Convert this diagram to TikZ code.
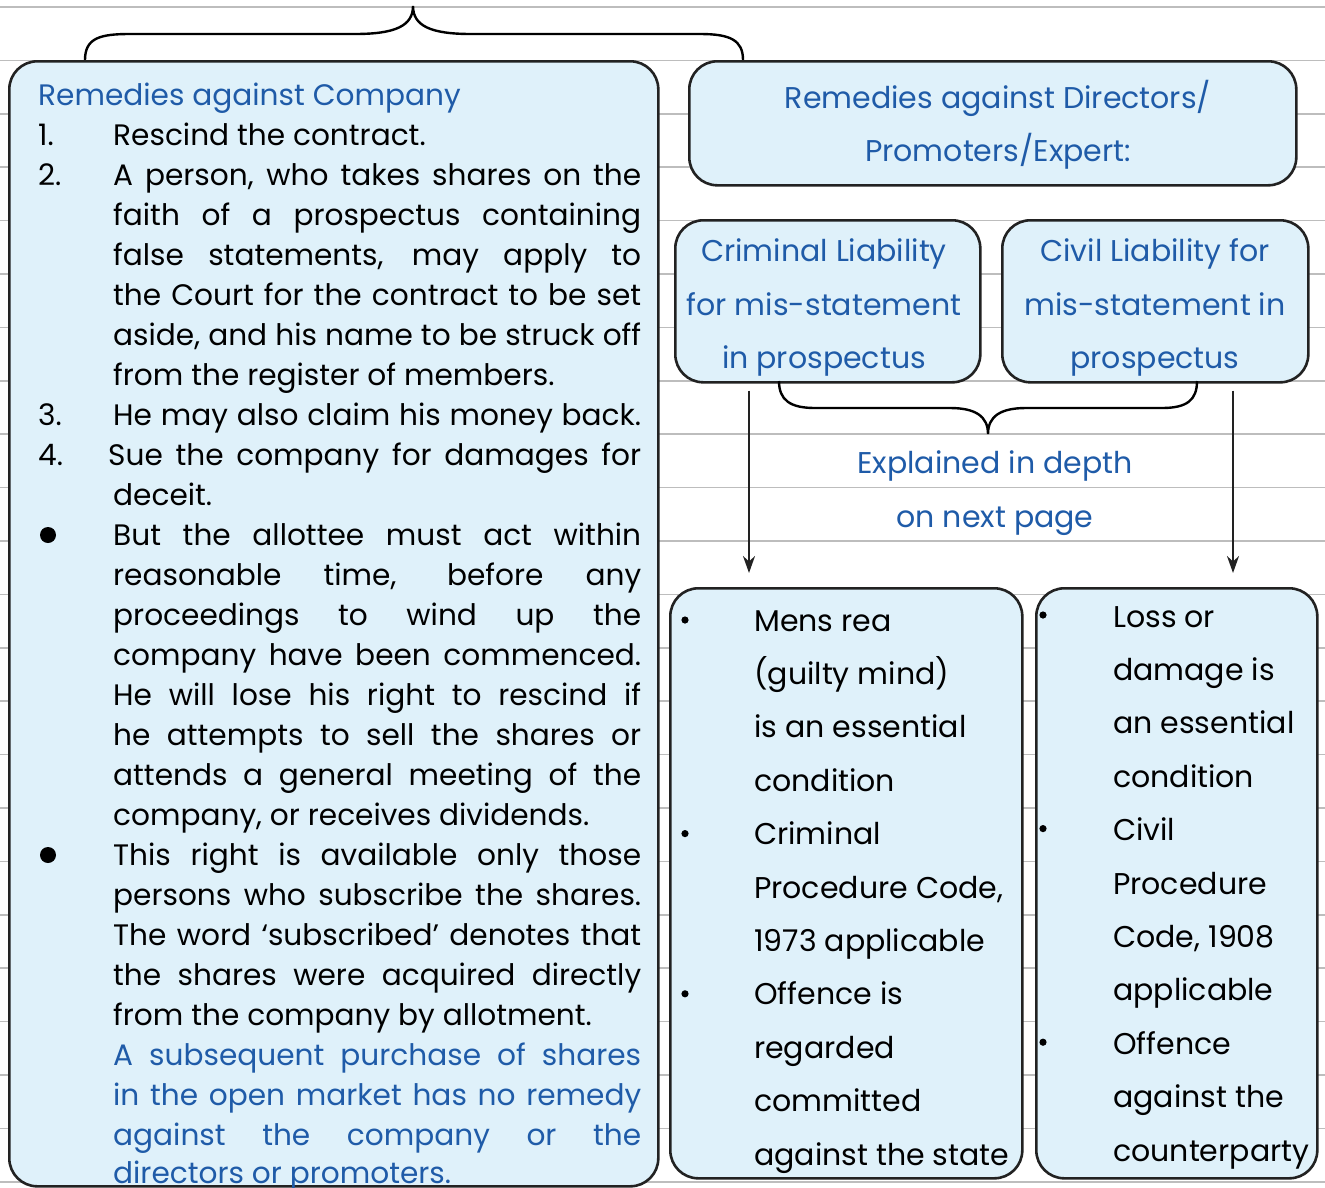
\documentclass[tikz,border=0pt]{standalone}
\usepackage{fontspec}
\setmainfont{Poppins}
\usetikzlibrary{arrows.meta}
\definecolor{txtblue}{HTML}{1F5BA8}
\definecolor{boxfill}{HTML}{DFF1FA}
\definecolor{boxline}{HTML}{222222}
\definecolor{rulegray}{HTML}{BDBDBD}
\newcommand\fs{\fontsize{30}{36}\selectfont}
\newcommand\fb{\fontsize{29.6}{36}\selectfont}
\newcommand\jl[1]{\makebox[528pt][s]{#1}}
\begin{document}
\begin{tikzpicture}[x=1pt,y=-1pt,
  panel/.style={draw=boxline, line width=2.6pt, fill=boxfill, rounded corners=28pt, inner sep=0pt, anchor=north west},
  txt/.style={anchor=base west, inner sep=0pt, font=\fs, text=black},
  ltxt/.style={txt, font=\fb},
  btxt/.style={ltxt, text=txtblue},
  ctxt/.style={anchor=base, inner sep=0pt, font=\fs, text=txtblue},
  rulel/.style={draw=rulegray, line width=1.6pt},
  brace/.style={draw=black, line width=2.4pt},
  arr/.style={draw=boxline, line width=2.4pt, -{Stealth[length=17pt,width=12pt]}},
  bigdot/.style={fill=black},
  smalldot/.style={fill=black}]
\useasboundingbox (0,0) rectangle (1325,1187);
\clip (0,0) rectangle (1325,1187);
% ruled lines
\foreach \k in {0,...,22} \draw[rulel] (0,7+53.4*\k) -- (1325,7+53.4*\k);
% top brace
\draw[brace] (85,60) .. controls (85,38) and (100,34) .. (130,34) -- (355,34)
  .. controls (395,34) and (413,26) .. (413,6)
  .. controls (413,26) and (431,34) .. (471,34) -- (700,34)
  .. controls (730,34) and (743,40) .. (743,60);
% boxes
\node[panel, minimum width=649pt, minimum height=1125pt] (comp) at (8,60) {};
\node[panel, minimum width=607pt, minimum height=124pt] (dirs) at (688,60) {};
\node[panel, minimum width=305pt, minimum height=162pt] (crim) at (674,219) {};
\node[panel, minimum width=306pt, minimum height=162pt] (civil) at (1001,219) {};
\node[panel, minimum width=352pt, minimum height=590pt] (crimlist) at (669,587) {};
\node[panel, minimum width=281pt, minimum height=590pt] (civillist) at (1035,587) {};
% lower brace
\draw[brace] (779,381) .. controls (779,400) and (790,408) .. (815,408) -- (950,408)
  .. controls (975,408) and (988,416) .. (988,434)
  .. controls (988,416) and (1001,408) .. (1026,408) -- (1162,408)
  .. controls (1187,408) and (1197,400) .. (1197,381);
% arrows
\coordinate (ax1) at (749,0);
\coordinate (ax2) at (1233,0);
\draw[arr, shorten <=7pt, shorten >=14pt] (crim.south -| ax1) -- (crimlist.north -| ax1);
\draw[arr, shorten <=7pt, shorten >=14pt] (civil.south -| ax2) -- (civillist.north -| ax2);
% headings
\node[btxt] (h1) at (38,105) {Remedies against Company};
\node[ctxt] (h2a) at (998,108) {Remedies against Directors/};
\node[ctxt] (h2b) at (998,161) {Promoters/Expert:};
\node[ctxt] (c1) at (824,261) {Criminal Liability};
\node[ctxt] (c2) at (824,315) {for mis-statement};
\node[ctxt] (c3) at (824,368) {in prospectus};
\node[ctxt] (v1) at (1155,261) {Civil Liability for};
\node[ctxt] (v2) at (1155,315) {mis-statement in};
\node[ctxt] (v3) at (1155,368) {prospectus};
\node[ctxt] (e1) at (995,473) {Explained in depth};
\node[ctxt] (e2) at (995,527) {on next page};
% left box body
\node[ltxt] (n1) at (38,145) {1.};
\node[ltxt] (l0) at (113,145) {Rescind the contract.};
\node[ltxt] (n2) at (38,185) {2.};
\node[ltxt] (l1) at (113,185) {\jl{A person, who takes shares on the}};
\node[ltxt] (l2) at (113,225) {\jl{faith of a prospectus containing}};
\node[ltxt] (l3) at (113,265) {\jl{false statements, may apply to}};
\node[ltxt] (l4) at (113,305) {\jl{the Court for the contract to be set}};
\node[ltxt] (l5) at (113,345) {\jl{aside, and his name to be struck off}};
\node[ltxt] (l6) at (113,385) {from the register of members.};
\node[ltxt] (n3) at (38,425) {3.};
\node[ltxt] (l7) at (113,425) {\jl{He may also claim his money back.}};
\node[ltxt] (n4) at (38,465) {4.};
\node[ltxt] (l8) at (108,465) {\makebox[533pt][s]{Sue the company for damages for}};
\node[ltxt] (l9) at (113,505) {deceit.};
\fill[bigdot] (48,535) circle (8);
\node[ltxt] (l10) at (113,545) {\jl{But the allottee must act within}};
\node[ltxt] (l11) at (113,585) {\jl{reasonable time, before any}};
\node[ltxt] (l12) at (113,625) {\jl{proceedings to wind up the}};
\node[ltxt] (l13) at (113,665) {\jl{company have been commenced.}};
\node[ltxt] (l14) at (113,705) {\jl{He will lose his right to rescind if}};
\node[ltxt] (l15) at (113,745) {\jl{he attempts to sell the shares or}};
\node[ltxt] (l16) at (113,785) {\jl{attends a general meeting of the}};
\node[ltxt] (l17) at (113,825) {company, or receives dividends.};
\fill[bigdot] (48,855) circle (8);
\node[ltxt] (l18) at (113,865) {\jl{This right is available only those}};
\node[ltxt] (l19) at (113,905) {\jl{persons who subscribe the shares.}};
\node[ltxt] (l20) at (113,945) {\jl{The word ‘subscribed’ denotes that}};
\node[ltxt] (l21) at (113,985) {\jl{the shares were acquired directly}};
\node[ltxt] (l22) at (113,1025) {from the company by allotment.};
\node[btxt] (l23) at (113,1065) {\jl{A subsequent purchase of shares}};
\node[btxt] (l24) at (113,1105) {\jl{in the open market has no remedy}};
\node[btxt] (l25) at (113,1145) {\jl{against the company or the}};
\node[btxt] (l26) at (113,1183) {directors or promoters.};
% bottom-left list
\foreach \t [count=\j from 0] in {Mens rea,(guilty mind),is an essential,condition,Criminal,{Procedure Code,},1973 applicable,Offence is,regarded,committed,against the state}
  \node[txt] (cl\j) at (754,631+53.4*\j) {\t};
\foreach \j in {0,4,7} \fill[smalldot] (685,620+53.4*\j) circle (3.6);
% bottom-right list
\foreach \t [count=\j from 0] in {Loss or,damage is,an essential,condition,Civil,Procedure,{Code, 1908},applicable,Offence,against the,counterparty}
  \node[txt] (vl\j) at (1113,627+53.4*\j) {\t};
\foreach \j in {0,4,8} \fill[smalldot] (1043,615+53.4*\j) circle (3.6);
\end{tikzpicture}
\end{document}
